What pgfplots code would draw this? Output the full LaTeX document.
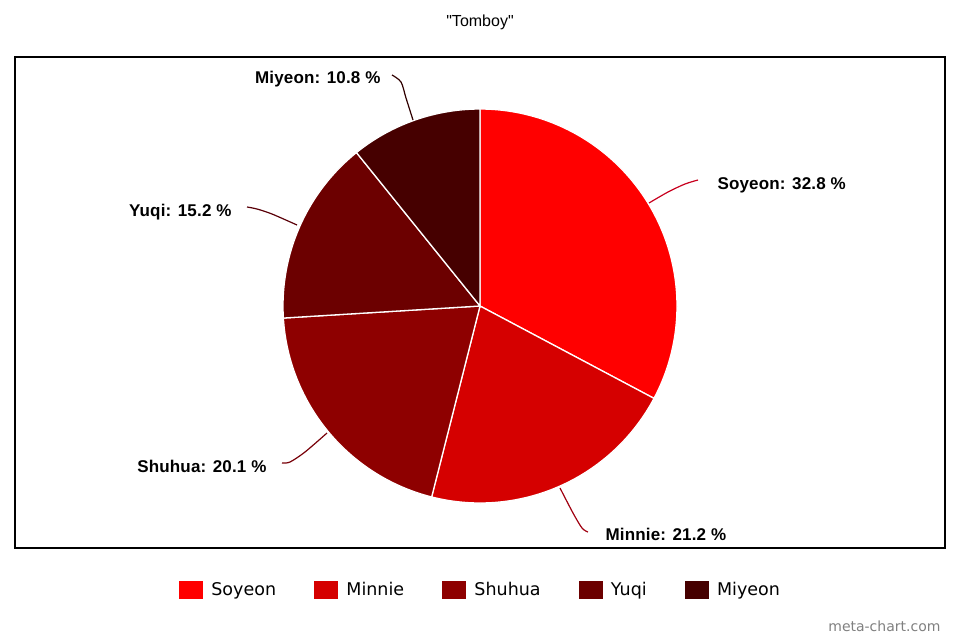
\documentclass[border=0pt]{standalone}
\usepackage{pgfplots}
\pgfplotsset{compat=1.18}
\usepackage{fontspec}
\setmainfont{Liberation Sans}
\newfontfamily\titlefont{Liberation Sans}[Ligatures=TeXOff]
\newfontfamily\legfont{DejaVu Sans}
\definecolor{cA}{HTML}{FF0000}
\definecolor{cB}{HTML}{D50000}
\definecolor{cC}{HTML}{8E0000}
\definecolor{cD}{HTML}{6C0000}
\definecolor{cE}{HTML}{460000}
\definecolor{lA}{HTML}{C8001E}
\definecolor{lB}{HTML}{A00010}
\definecolor{lC}{HTML}{780008}
\definecolor{lD}{HTML}{5A0008}
\definecolor{lE}{HTML}{300000}
% shares (percent)
\def\pA{32.8}\def\pB{21.2}\def\pC{20.1}\def\pD{15.2}\def\pE{10.8}
\pgfmathsetmacro\tot{\pA+\pB+\pC+\pD+\pE}
\pgfmathsetmacro\aA{90-360*\pA/\tot}
\pgfmathsetmacro\aB{\aA-360*\pB/\tot}
\pgfmathsetmacro\aC{\aB-360*\pC/\tot}
\pgfmathsetmacro\aD{\aC-360*\pD/\tot}
\pgfmathsetmacro\aE{-270}
\newcommand\lbl{\fontsize{17}{20}\selectfont\bfseries\addfontfeature{LetterSpace=1}}
\begin{document}
\begin{tikzpicture}
\begin{axis}[
  scale only axis, width=960pt, height=640pt,
  xmin=0, xmax=960, ymin=0, ymax=640, y dir=reverse,
  hide axis, clip=false,
  legend columns=5,
  legend style={at={(axis cs:480,590)}, anchor=center, draw=none, fill=none,
    font=\legfont\fontsize{17.5}{20}\selectfont,
    /tikz/every odd column/.append style={column sep=5pt},
    /tikz/every even column/.append style={column sep=35pt}},
  legend image code/.code={\fill[#1] (0pt,-9.5pt) rectangle (25pt,9.5pt);},
]
\path (axis cs:0,0) rectangle (axis cs:960,640);
\addplot[fill=cA, draw=white, line width=1.3pt, domain=\aA:90, samples=90, variable=\t]
  ({480+197*cos(\t)},{306-197*sin(\t)}) -- (axis cs:480,306) -- cycle;
\addlegendentry{Soyeon}
\addplot[fill=cB, draw=white, line width=1.3pt, domain=\aB:\aA, samples=70, variable=\t]
  ({480+197*cos(\t)},{306-197*sin(\t)}) -- (axis cs:480,306) -- cycle;
\addlegendentry{Minnie}
\addplot[fill=cC, draw=white, line width=1.3pt, domain=\aC:\aB, samples=70, variable=\t]
  ({480+197*cos(\t)},{306-197*sin(\t)}) -- (axis cs:480,306) -- cycle;
\addlegendentry{Shuhua}
\addplot[fill=cD, draw=white, line width=1.3pt, domain=\aD:\aC, samples=60, variable=\t]
  ({480+197*cos(\t)},{306-197*sin(\t)}) -- (axis cs:480,306) -- cycle;
\addlegendentry{Yuqi}
\addplot[fill=cE, draw=white, line width=1.3pt, domain=\aE:\aD, samples=50, variable=\t]
  ({480+197*cos(\t)},{306-197*sin(\t)}) -- (axis cs:480,306) -- cycle;
\addlegendentry{Miyeon}
% leader lines
\addplot[lA, line width=1.2pt, smooth, forget plot] coordinates {(649,203) (668,192) (685,184) (698,180)};
\addplot[lB, line width=1.2pt, smooth, forget plot] coordinates {(560,488) (573,513) (582,528) (588,532)};
\addplot[lC, line width=1.2pt, smooth, forget plot] coordinates {(327,433) (305,452) (290,462) (282,463)};
\addplot[lD, line width=1.2pt, smooth, forget plot] coordinates {(297,225) (272,214) (257,209) (247,207)};
\addplot[lE, line width=1.2pt, smooth, forget plot] coordinates {(413,120) (406,98) (401,82) (392,75)};
% frame
\draw[black, line width=2.5pt] (axis cs:15,57) rectangle (axis cs:945,548);
% labels
\node[anchor=mid west, font=\lbl] at (axis cs:714,187) {Soyeon: 32.8 \%};
\node[anchor=mid west, font=\lbl] at (axis cs:602,538) {Minnie: 21.2 \%};
\node[anchor=mid east, font=\lbl] at (axis cs:270,470) {Shuhua: 20.1 \%};
\node[anchor=mid east, font=\lbl] at (axis cs:235,214) {Yuqi: 15.2 \%};
\node[anchor=mid east, font=\lbl] at (axis cs:384,81) {Miyeon: 10.8 \%};
\node[font=\titlefont\fontsize{16}{18}\selectfont] at (axis cs:480,22) {"Tomboy"};
\node[anchor=mid east, text=black!50, font=\legfont\fontsize{14}{16}\selectfont] at (axis cs:944,629) {meta-chart.com};
\end{axis}
\end{tikzpicture}
\end{document}
